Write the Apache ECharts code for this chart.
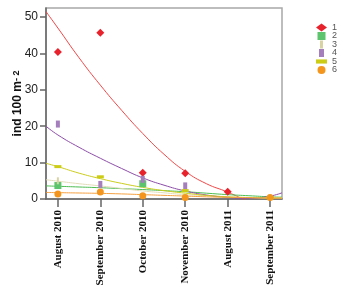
<!DOCTYPE html>
<html>
<head>
<meta charset="utf-8">
<script src="https://cdn.jsdelivr.net/npm/echarts@6/dist/echarts.min.js"></script>
<style>
html, body { margin: 0; padding: 0; background: #fff; }
#chart { width: 353px; height: 303px; }
</style>
</head>
<body>
<div id="chart"></div>
<script>
// categories on the x axis
var months = ['August 2010', 'September 2010', 'October 2010', 'November 2010', 'August 2011', 'September 2011'];
var names = ['1', '2', '3', '4', '5', '6'];
var yTicks = [0, 10, 20, 30, 40, 50];

// observed points (one per month, null = not shown)
var pts1 = [40.4, 45.7, 7.2, 7.1, 2.0, null];
var pts2 = [3.7, null, 4.2, null, null, null];
var pts3 = [5.0, null, null, null, null, null];
var pts4 = [20.6, 4.0, 5.4, 3.6, null, null];
var pts5 = [8.9, 6.1, null, 2.3, null, 0.3];
var pts6 = [1.4, 1.9, 0.9, 0.4, null, 0.4];

// fitted curves read at these x positions
var fitX = [-0.28, 0, 0.5, 1, 1.5, 2, 2.5, 3, 3.5, 4, 4.5, 5, 5.28];
var fit1 = [51.5, 47.0, 38.8, 31.3, 24.4, 18.0, 12.3, 7.6, 4.2, 1.9, -0.8, null, null];
var fit2 = [3.6, 3.5, 3.3, 3.1, 2.85, 2.6, 2.3, 2.0, 1.6, 1.2, 0.9, 0.6, 0.5];
var fit3 = [5.3, 4.9, 4.2, 3.6, 2.9, 2.2, 1.7, 1.2, 0.9, 0.6, 0.4, 0.3, 0.3];
var fit4 = [20.0, 17.6, 14.2, 11.2, 8.4, 5.8, 3.8, 2.2, 1.1, 0.45, 0.15, 0.8, 1.7];
var fit5 = [9.8, 8.9, 7.1, 5.6, 4.3, 3.2, 2.3, 1.6, 1.0, 0.6, 0.4, 0.3, 0.3];
var fit6 = [1.8, 1.75, 1.65, 1.55, 1.4, 1.2, 1.0, 0.8, 0.6, 0.45, 0.35, 0.25, 0.2];

var colors = ['#e8222c', '#5cc46c', '#d9d3a4', '#a57fbb', '#cccc14', '#f4961e'];
var lineColors = ['#f04848', '#4cbc50', '#e2dcb8', '#8c4ca8', '#cccc1e', '#f4a040'];
var symbols = ['diamond', 'rect', 'path://M0,0h2v6h-2z', 'path://M0,0h3v7h-3z', 'path://M0,0h6v3h-6z', 'circle'];
var sizes = [8, 7, [2, 7], [4, 7], [7, 3], 7];
var legendIcons = ['diamond', 'path://M0,0h8v8h-8z', 'path://M0,0h3v8h-3z', 'path://M0,0h5v8h-5z', 'path://M0,0h8v3h-8z', 'circle'];

var allPts = [pts1, pts2, pts3, pts4, pts5, pts6];
var allFits = [fit1, fit2, fit3, fit4, fit5, fit6];

function pairs(xs, ys) {
	var out = [];
	for (var i = 0; i < ys.length; i++) {
		if (ys[i] !== null) out.push([xs[i], ys[i]]);
	}
	return out;
}

var series = [];
for (var s = 0; s < 6; s++) {
	series.push({
		name: 'fit' + names[s],
		type: 'line',
		data: pairs(fitX, allFits[s]),
		smooth: 0.5,
		showSymbol: false,
		silent: true,
		z: 2,
		lineStyle: { color: lineColors[s], width: 1 }
	});
}
for (var s = 0; s < 6; s++) {
	var idx = [];
	for (var k = 0; k < months.length; k++) idx.push(k);
	series.push({
		name: names[s],
		type: 'scatter',
		data: pairs(idx, allPts[s]),
		symbol: symbols[s],
		symbolSize: sizes[s],
		z: 3,
		itemStyle: { color: colors[s], opacity: 1 }
	});
}

var legendData = [];
for (var s = 0; s < 6; s++) {
	legendData.push({ name: names[s], icon: legendIcons[s], itemStyle: { color: colors[s] } });
}

var option = {
	animation: false,
	legend: {
		orient: 'vertical',
		left: 311,
		top: 18,
		itemWidth: 11,
		itemHeight: 8,
		itemGap: -0.5,
		selectedMode: false,
		textStyle: { color: '#555', fontSize: 9, lineHeight: 8, fontFamily: 'Liberation Sans' },
		data: legendData
	},
	grid: {
		left: 46,
		right: 71,
		top: 8,
		bottom: 104,
		outerBoundsMode: 'none',
		show: true,
		borderColor: '#a8a8a8',
		borderWidth: 1.5
	},
	xAxis: {
		type: 'value',
		min: -0.28,
		max: 5.28,
		splitLine: { show: false },
		axisLine: { onZero: false, lineStyle: { color: '#666', width: 1.5 } },
		axisTick: { customValues: [0, 1, 2, 3, 4, 5], length: 8, lineStyle: { color: '#666', width: 1.5 } },
		axisLabel: {
			customValues: [0, 1, 2, 3, 4, 5],
			rotate: 90,
			margin: 11,
			color: '#111',
			fontFamily: 'Liberation Serif',
			fontSize: 11,
			fontWeight: 'bold',
			formatter: function (v) { return months[Math.round(v)]; }
		}
	},
	yAxis: {
		type: 'value',
		min: 0,
		max: 52.5,
		name: 'ind 100 m{sup|- 2}',
		nameLocation: 'middle',
		nameGap: 22,
		nameMoveOverlap: false,
		nameTextStyle: {
			fontFamily: 'Liberation Sans',
			fontWeight: 'bold',
			fontSize: 12,
			color: '#111',
			rich: { sup: { fontSize: 9, fontWeight: 'bold', verticalAlign: 'top' } }
		},
		splitLine: { show: false },
		axisLine: { show: true, onZero: false, lineStyle: { color: '#666', width: 1.5 } },
		axisTick: { show: true, customValues: yTicks, length: 6, lineStyle: { color: '#666', width: 1.5 } },
		axisLabel: {
			customValues: yTicks,
			margin: 8,
			color: '#222',
			fontFamily: 'Liberation Sans',
			fontSize: 12
		}
	},
	series: series
};

var chart = echarts.init(document.getElementById('chart'));
chart.setOption(option);
</script>
</body>
</html>
